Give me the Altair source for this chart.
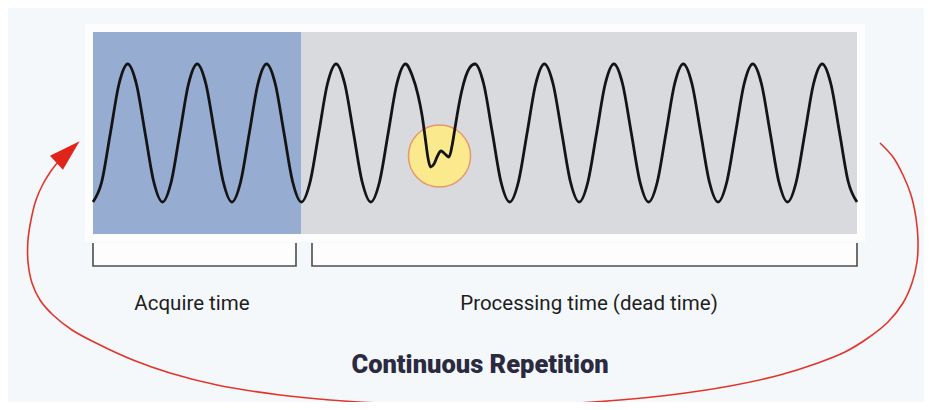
import altair as alt
import pandas as pd

# ---------------- data (pixel-like units) ----------------
# background panels
panel_name = ["frame", "acquire", "processing", "acq_bracket_bg", "proc_bracket_bg"]
panel_x = [85, 93, 301.4, 93, 312]
panel_x2 = [865, 301.4, 857, 296, 857]
panel_y = [24, 32, 32, 243, 243]
panel_y2 = [242, 234, 234, 266, 266]
panel_color = ["#fdfdfd", "#97acd1", "#d8dadd", "#fdfdfd", "#fdfdfd"]

# waveform (troughs at ~93,162,232,...; peaks at ~127,197,266,...) with the glitch near x=440
wave_x = [
    93.0, 101.7, 110.4, 119.0, 127.7, 136.4, 145.1, 153.8,
    162.5, 171.2, 179.9, 188.5, 197.2, 205.9, 214.6, 223.3,
    231.9, 240.6, 249.3, 257.9, 266.6, 275.3, 284.0, 292.7,
    301.4, 310.1, 318.8, 327.4, 336.1, 344.8, 353.5, 362.2,
    370.8, 379.5, 388.2, 396.8, 405.5,
    412.0, 418.0, 422.0, 425.5, 428.0, 430.5, 434.0, 437.5, 441.0, 445.0, 449.0,
    452.0, 455.0, 458.0, 461.5, 465.5, 469.5,
    475.0, 483.7, 492.4, 501.0,
    509.7, 518.4, 527.1, 535.7, 544.4, 553.1, 561.8, 570.5,
    579.2, 587.9, 596.6, 605.2, 613.9, 622.6, 631.3, 640.0,
    648.6, 657.3, 666.0, 674.6, 683.3, 692.0, 700.7, 709.4,
    718.1, 726.8, 735.5, 744.1, 752.8, 761.5, 770.2, 778.9,
    787.5, 796.2, 804.9, 813.5, 822.2, 830.9, 839.6, 848.3,
    857.0,
]
wave_y = [
    202, 182, 133, 84, 64, 84, 133, 182,
    202, 182, 133, 84, 64, 84, 133, 182,
    202, 182, 133, 84, 64, 84, 133, 182,
    202, 182, 133, 84, 64, 84, 133, 182,
    202, 182, 133, 84, 64,
    75, 95, 115, 140, 158, 167, 164, 156, 151, 154, 157,
    146, 128, 110, 92, 77, 68,
    64, 84, 133, 182,
    202, 182, 133, 84, 64, 84, 133, 182,
    202, 182, 133, 84, 64, 84, 133, 182,
    202, 182, 133, 84, 64, 84, 133, 182,
    202, 182, 133, 84, 64, 84, 133, 182,
    202, 182, 133, 84, 64, 84, 133, 182,
    202,
]

# glitch highlight circle
glitch_x = [439.5]
glitch_y = [156]

# time brackets
bracket_id = ["acq"] * 4 + ["proc"] * 4
bracket_x = [93, 93, 296, 296, 312, 312, 857, 857]
bracket_y = [243, 266, 266, 243, 243, 266, 266, 243]

# labels
label_text = ["Acquire time", "Processing time (dead time)"]
label_x = [192, 589]
label_y = [310, 310]
title_text = ["Continuous Repetition"]
title_x = [480]
title_y = [373]

# red repetition arc (from right end, around the bottom, to the arrow on the left)
arc_x = [880, 893, 903, 911, 916, 918, 917, 912, 903, 888, 868, 845, 815, 780, 730, 670,
         620, 560, 480, 400, 330, 280, 217, 170, 133, 100, 72, 53, 40, 32, 28, 28, 31, 36,
         43, 51, 58]
arc_y = [143, 157, 175, 195, 218, 240, 262, 283, 303, 322, 338, 352, 364, 375, 386, 395,
         400, 404, 406, 404, 400, 395, 385, 373, 360, 345, 330, 315, 300, 283, 262, 240,
         220, 200, 184, 171, 162]
arrow_x = [68]
arrow_y = [152]

# ---------------- chart ----------------
W, H = 916, 394
xs = alt.Scale(domain=[8, 924], nice=False, zero=False)
ys = alt.Scale(domain=[8, 402], nice=False, zero=False, reverse=True)


def X(f="x"):
    return alt.X(f"{f}:Q", scale=xs, axis=None)


def Y(f="y"):
    return alt.Y(f"{f}:Q", scale=ys, axis=None)


panels = pd.DataFrame({"name": panel_name, "x": panel_x, "x2": panel_x2,
                       "y": panel_y, "y2": panel_y2, "c": panel_color})
panel_layer = alt.Chart(panels).mark_rect().encode(
    x=X(), x2="x2:Q", y=Y(), y2="y2:Q",
    color=alt.Color("c:N", scale=None),
)

wave = pd.DataFrame({"x": wave_x, "y": wave_y, "i": list(range(len(wave_x)))})
wave_layer = alt.Chart(wave).mark_line(
    color="#141414", strokeWidth=2.8, interpolate="monotone"
).encode(x=X(), y=Y(), order="i:Q")

glitch = pd.DataFrame({"x": glitch_x, "y": glitch_y})
glitch_layer = alt.Chart(glitch).mark_point(
    shape="circle", filled=True, size=3850, fill="#fbe98e", fillOpacity=1,
    stroke="#e49a6c", strokeWidth=1.5, opacity=1
).encode(x=X(), y=Y())

brackets = pd.DataFrame({"id": bracket_id, "x": bracket_x, "y": bracket_y,
                         "i": list(range(len(bracket_x)))})
bracket_layer = alt.Chart(brackets).mark_line(
    color="#4d4d4d", strokeWidth=1.6
).encode(x=X(), y=Y(), detail="id:N", order="i:Q")

font = "Roboto, sans-serif"
labels = pd.DataFrame({"t": label_text, "x": label_x, "y": label_y})
label_layer = alt.Chart(labels).mark_text(
    font=font, fontSize=20.5, color="#1e1e1e", baseline="alphabetic", align="center"
).encode(x=X(), y=Y(), text="t:N")

titles = pd.DataFrame({"t": title_text, "x": title_x, "y": title_y})
title_layer = alt.Chart(titles).mark_text(
    font=font, fontSize=25.5, fontWeight=900, color="#2a2a40",
    baseline="alphabetic", align="center"
).encode(x=X(), y=Y(), text="t:N")

arc = pd.DataFrame({"x": arc_x, "y": arc_y, "i": list(range(len(arc_x)))})
arc_layer = alt.Chart(arc).mark_line(
    color="#e2352a", strokeWidth=1.6, interpolate="catmull-rom"
).encode(x=X(), y=Y(), order="i:Q")

arrow = pd.DataFrame({"x": arrow_x, "y": arrow_y})
arrow_layer = alt.Chart(arrow).mark_point(
    shape="M0,-1L0.6,1L-0.6,1Z", filled=True, size=1000, angle=47,
    color="#e2231a", opacity=1
).encode(x=X(), y=Y())

chart = alt.layer(
    panel_layer, glitch_layer, wave_layer, bracket_layer,
    label_layer, title_layer, arc_layer, arrow_layer
).properties(
    width=W, height=H, padding=0, autosize="none", background="#f4f8fb"
).configure_view(stroke=None)

chart.save("out.html", embed_options={"renderer": "svg", "actions": False})
